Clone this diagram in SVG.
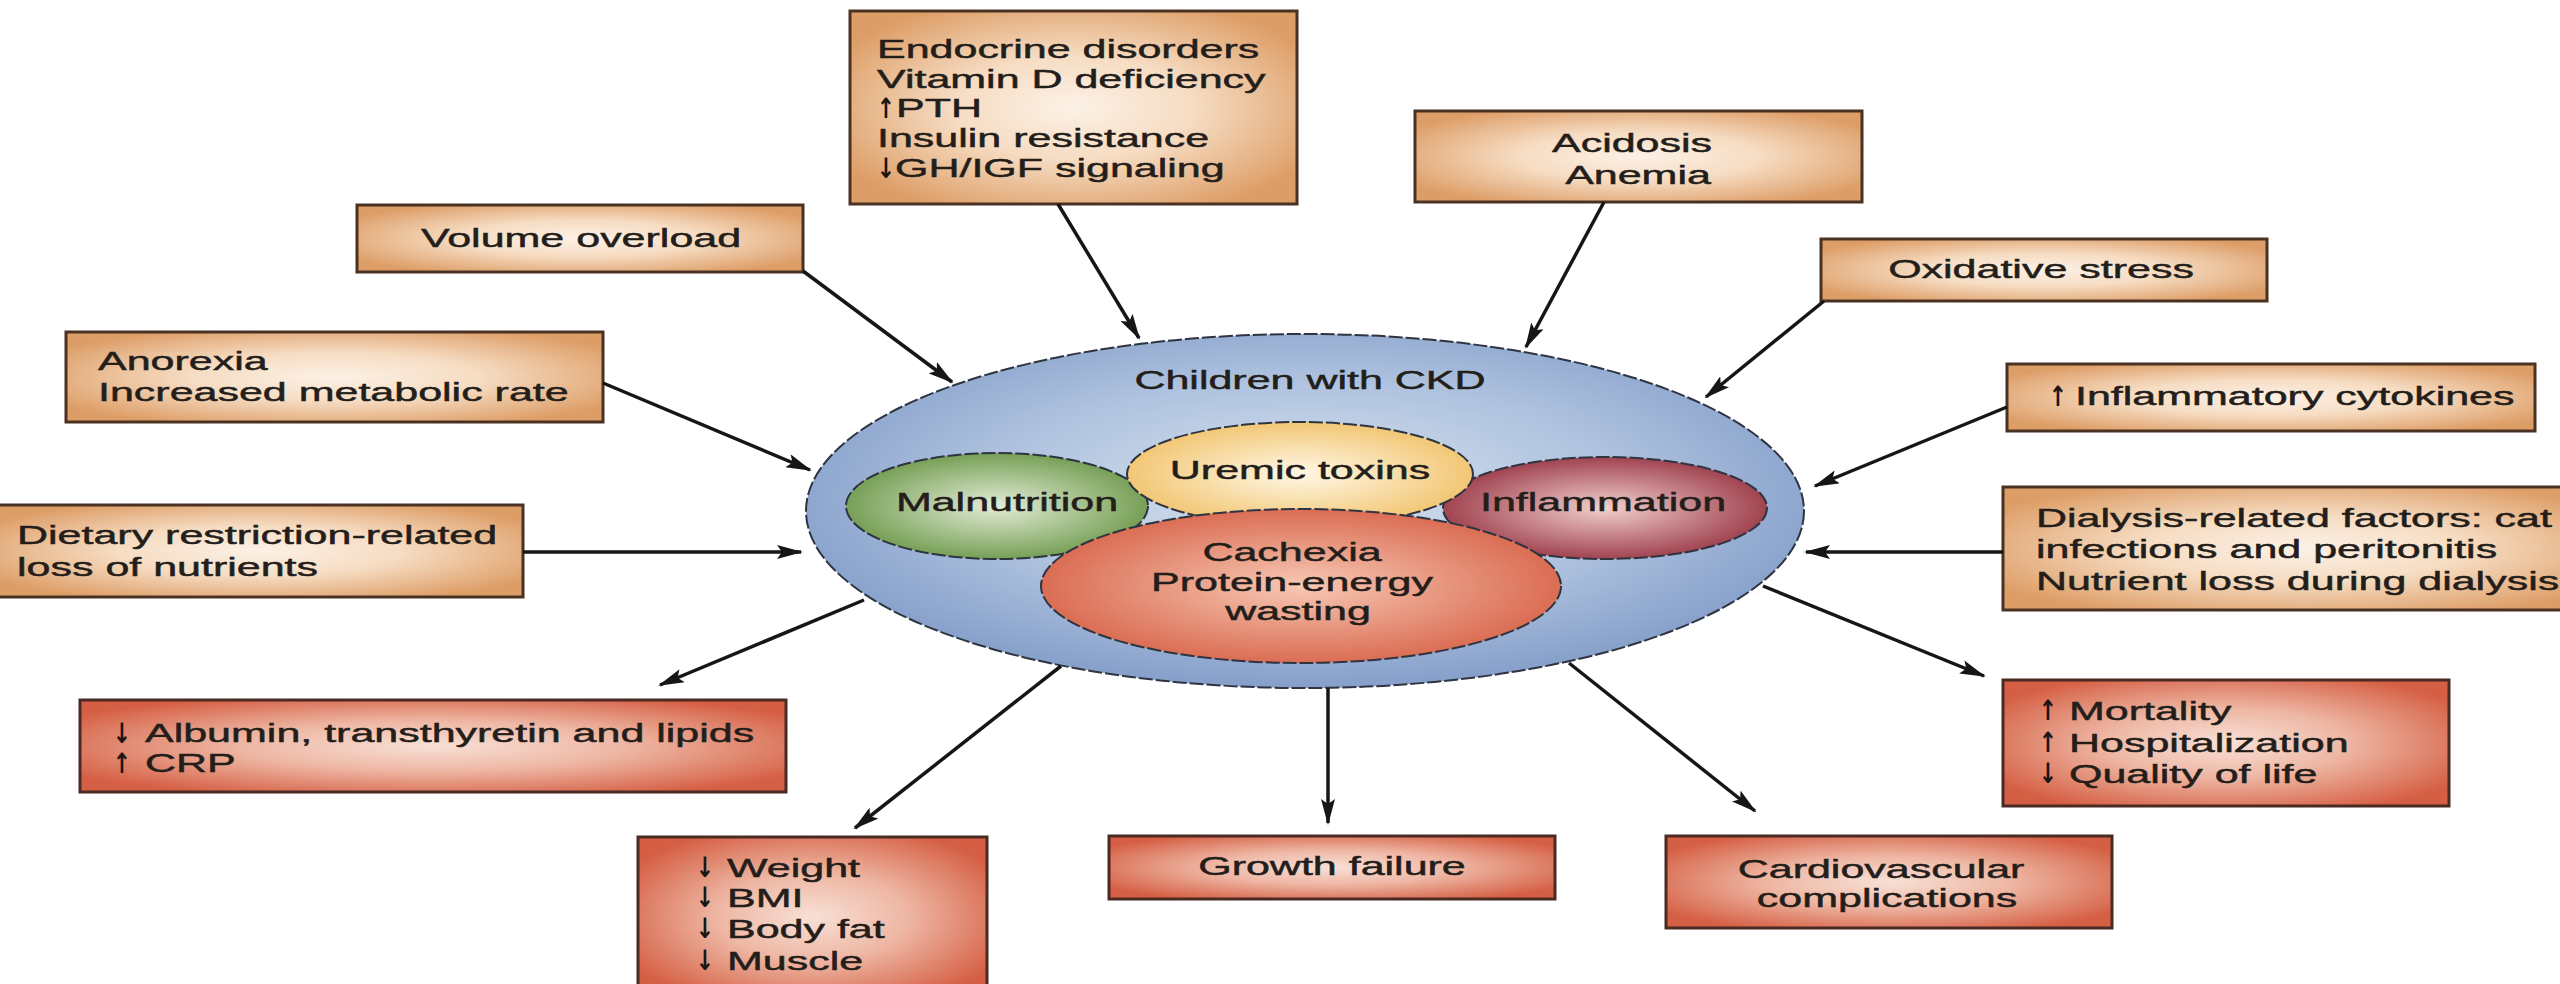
<svg xmlns="http://www.w3.org/2000/svg" width="2560" height="984" viewBox="0 0 2560 984">
  <defs>
    <style>
      .t { font-family: "Liberation Sans", Arial, sans-serif; font-size: 25px; fill: #241e1b; stroke: #241e1b; stroke-width: 0.45px; }
      .c { text-anchor: middle; }
      .ar { font-family: "DejaVu Sans", "Liberation Sans", sans-serif; font-weight: bold; font-size: 28px; fill: #1a1614; text-anchor: middle; }
      .in { fill: url(#gIn); stroke: #4a3222; stroke-width: 3; }
      .out { fill: url(#gOut); stroke: #4a2a22; stroke-width: 3; }
      .ell { stroke: #2e3440; stroke-width: 2; stroke-dasharray: 14 3; }
      .link { fill: none; stroke: #161616; stroke-width: 3.5; marker-end: url(#ah); }
    </style>
    <radialGradient id="gIn" cx="0.5" cy="0.5" r="0.6">
      <stop offset="0" stop-color="#fcf1e6"/>
      <stop offset="0.45" stop-color="#f6dcc2"/>
      <stop offset="1" stop-color="#dd9d66"/>
    </radialGradient>
    <radialGradient id="gOut" cx="0.5" cy="0.5" r="0.6">
      <stop offset="0" stop-color="#f8e0d6"/>
      <stop offset="0.45" stop-color="#eeb7a4"/>
      <stop offset="1" stop-color="#d55f44"/>
    </radialGradient>
    <radialGradient id="gBlue" cx="0.5" cy="0.45" r="0.55">
      <stop offset="0" stop-color="#d9e3f0"/>
      <stop offset="0.6" stop-color="#adc1de"/>
      <stop offset="1" stop-color="#859fca"/>
    </radialGradient>
    <radialGradient id="gGreen" cx="0.5" cy="0.5" r="0.55">
      <stop offset="0" stop-color="#e3ecd6"/>
      <stop offset="1" stop-color="#6c984a"/>
    </radialGradient>
    <radialGradient id="gYellow" cx="0.5" cy="0.5" r="0.55">
      <stop offset="0" stop-color="#fff8e6"/>
      <stop offset="1" stop-color="#f1c26a"/>
    </radialGradient>
    <radialGradient id="gRed" cx="0.5" cy="0.5" r="0.55">
      <stop offset="0" stop-color="#f2d0cd"/>
      <stop offset="1" stop-color="#983544"/>
    </radialGradient>
    <radialGradient id="gCach" cx="0.5" cy="0.5" r="0.55">
      <stop offset="0" stop-color="#f7c8b4"/>
      <stop offset="1" stop-color="#d8644a"/>
    </radialGradient>
    <marker id="ah" viewBox="0 0 26 14" refX="24" refY="7" markerWidth="26" markerHeight="14" markerUnits="userSpaceOnUse" orient="auto">
      <path d="M0,0 L26,7 L0,14 L5,7 z" fill="#161616"/>
    </marker>
  </defs>

  <rect width="2560" height="984" fill="#ffffff"/>

  <!-- central population ellipse with overlapping conditions -->
  <g id="ckd">
    <ellipse class="ell" cx="1305" cy="511" rx="499" ry="177" fill="url(#gBlue)"/>
    <text class="t c" transform="translate(1310,389) scale(1.72,1)">Children with CKD</text>
  </g>
  <g id="malnutrition">
    <ellipse class="ell" cx="997" cy="506" rx="151" ry="53" fill="url(#gGreen)"/>
    <text class="t c" transform="translate(1007,511) scale(1.72,1)">Malnutrition</text>
  </g>
  <g id="inflammation">
    <ellipse class="ell" cx="1605" cy="508" rx="162" ry="51" fill="url(#gRed)"/>
    <text class="t c" transform="translate(1603,511) scale(1.72,1)">Inflammation</text>
  </g>
  <g id="uremic">
    <ellipse class="ell" cx="1300" cy="474" rx="173" ry="52" fill="url(#gYellow)"/>
    <text class="t c" transform="translate(1300,479) scale(1.72,1)">Uremic toxins</text>
  </g>
  <g id="cachexia">
    <ellipse class="ell" cx="1301" cy="586" rx="260" ry="77" fill="url(#gCach)"/>
    <text class="t c" transform="translate(1298,561) scale(1.72,1)">
      <tspan x="0" y="0">Cachexia</tspan>
      <tspan x="0" y="30">Protein-energy</tspan>
      <tspan x="0" y="59">wasting</tspan>
    </text>
  </g>

  <!-- contributing factors -->
  <g id="endocrine">
    <rect class="in" x="850" y="11" width="447" height="193"/>
    <text class="t" transform="translate(877,58) scale(1.72,1)">
      <tspan x="0" y="0">Endocrine disorders</tspan>
      <tspan x="0" y="30">Vitamin D deficiency</tspan>
    </text>
    <text class="ar" transform="translate(886,118) scale(0.78,1)"><tspan x="0" y="0">↑</tspan><tspan x="0" y="60">↓</tspan></text>
    <text class="t" transform="translate(896,117) scale(1.72,1)">PTH</text>
    <text class="t" transform="translate(877,147) scale(1.72,1)">Insulin resistance</text>
    <text class="t" transform="translate(895,177) scale(1.72,1)">GH/IGF signaling</text>
  </g>
  <g id="acidosis">
    <rect class="in" x="1415" y="111" width="447" height="91"/>
    <text class="t c" transform="translate(1638,152) scale(1.72,1)">
      <tspan x="0" y="0">Acidosis</tspan>
      <tspan x="0" y="32">Anemia</tspan>
    </text>
  </g>
  <g id="volume">
    <rect class="in" x="357" y="205" width="446" height="67"/>
    <text class="t c" transform="translate(581,247) scale(1.72,1)">Volume overload</text>
  </g>
  <g id="oxidative">
    <rect class="in" x="1821" y="239" width="446" height="62"/>
    <text class="t c" transform="translate(2041,278) scale(1.72,1)">Oxidative stress</text>
  </g>
  <g id="anorexia">
    <rect class="in" x="66" y="332" width="537" height="90"/>
    <text class="t" transform="translate(98,370) scale(1.72,1)">
      <tspan x="0" y="0">Anorexia</tspan>
      <tspan x="0" y="31">Increased metabolic rate</tspan>
    </text>
  </g>
  <g id="cytokines">
    <rect class="in" x="2007" y="364" width="528" height="67"/>
    <text class="ar" transform="translate(2058,406) scale(0.78,1)">↑</text>
    <text class="t" transform="translate(2075,405) scale(1.72,1)">Inflammatory cytokines</text>
  </g>
  <g id="dietary">
    <rect class="in" x="-4" y="505" width="527" height="92"/>
    <text class="t" transform="translate(17,544) scale(1.72,1)">
      <tspan x="0" y="0">Dietary restriction-related</tspan>
      <tspan x="0" y="32">loss of nutrients</tspan>
    </text>
  </g>
  <g id="dialysis">
    <rect class="in" x="2003" y="487" width="600" height="123"/>
    <text class="t" transform="translate(2036,527) scale(1.72,1)">
      <tspan x="0" y="0">Dialysis-related factors: cat</tspan>
      <tspan x="0" y="31">infections and peritonitis</tspan>
      <tspan x="0" y="63">Nutrient loss during dialysis</tspan>
    </text>
  </g>

  <!-- consequences -->
  <g id="albumin">
    <rect class="out" x="80" y="700" width="706" height="92"/>
    <text class="ar" transform="translate(122,743) scale(0.78,1)"><tspan x="0" y="0">↓</tspan><tspan x="0" y="30">↑</tspan></text>
    <text class="t" transform="translate(145,742) scale(1.72,1)">
      <tspan x="0" y="0">Albumin, transthyretin and lipids</tspan>
      <tspan x="0" y="30">CRP</tspan>
    </text>
  </g>
  <g id="weight">
    <rect class="out" x="638" y="837" width="349" height="160"/>
    <text class="ar" transform="translate(705,877) scale(0.78,1)"><tspan x="0" y="0">↓</tspan><tspan x="0" y="30">↓</tspan><tspan x="0" y="61">↓</tspan><tspan x="0" y="93">↓</tspan></text>
    <text class="t" transform="translate(727,877) scale(1.72,1)">
      <tspan x="0" y="0">Weight</tspan>
      <tspan x="0" y="30">BMI</tspan>
      <tspan x="0" y="61">Body fat</tspan>
      <tspan x="0" y="93">Muscle</tspan>
    </text>
  </g>
  <g id="growth">
    <rect class="out" x="1109" y="836" width="446" height="63"/>
    <text class="t c" transform="translate(1332,875) scale(1.72,1)">Growth failure</text>
  </g>
  <g id="cardio">
    <rect class="out" x="1666" y="836" width="446" height="92"/>
    <text class="t c" transform="translate(1887,878) scale(1.72,1)">
      <tspan x="0" y="0">Cardiovascular</tspan>
      <tspan x="0" y="29">complications</tspan>
    </text>
  </g>
  <g id="mortality">
    <rect class="out" x="2003" y="680" width="446" height="126"/>
    <text class="ar" transform="translate(2048,720) scale(0.78,1)"><tspan x="0" y="0">↑</tspan><tspan x="0" y="32">↑</tspan><tspan x="0" y="63">↓</tspan></text>
    <text class="t" transform="translate(2069,720) scale(1.72,1)">
      <tspan x="0" y="0">Mortality</tspan>
      <tspan x="0" y="32">Hospitalization</tspan>
      <tspan x="0" y="63">Quality of life</tspan>
    </text>
  </g>

  <!-- arrows -->
  <g id="connectors">
    <line class="link" x1="803" y1="271" x2="952" y2="382"/>
    <line class="link" x1="1058" y1="204" x2="1139" y2="338"/>
    <line class="link" x1="1604" y1="202" x2="1526" y2="347"/>
    <line class="link" x1="1824" y1="301" x2="1706" y2="397"/>
    <line class="link" x1="603" y1="383" x2="810" y2="470"/>
    <line class="link" x1="2007" y1="407" x2="1815" y2="486"/>
    <line class="link" x1="523" y1="552" x2="801" y2="552"/>
    <line class="link" x1="2003" y1="552" x2="1806" y2="552"/>
    <line class="link" x1="864" y1="600" x2="660" y2="685"/>
    <line class="link" x1="1061" y1="666" x2="855" y2="828"/>
    <line class="link" x1="1328" y1="688" x2="1328" y2="823"/>
    <line class="link" x1="1569" y1="663" x2="1755" y2="811"/>
    <line class="link" x1="1763" y1="586" x2="1984" y2="676"/>
  </g>
</svg>
